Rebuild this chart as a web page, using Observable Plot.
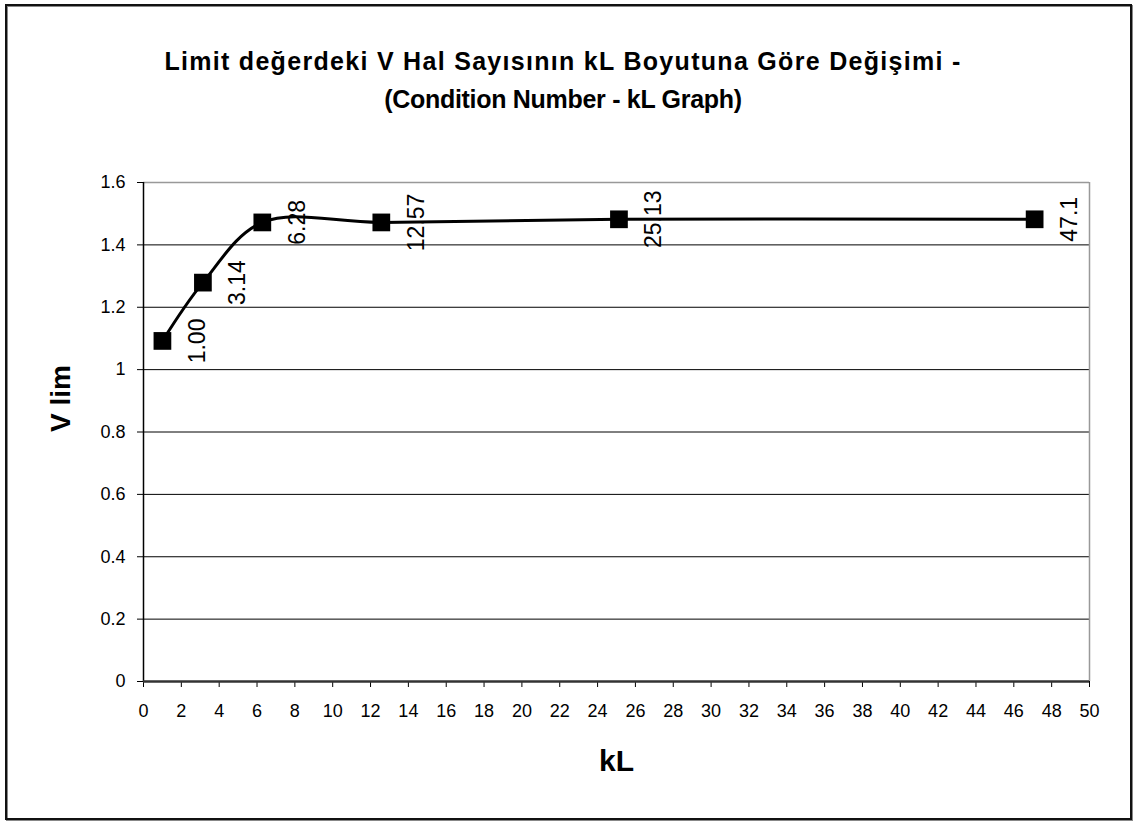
<!DOCTYPE html>
<html>
<head>
<meta charset="utf-8">
<script src="https://cdn.jsdelivr.net/npm/d3@7"></script>
<script src="https://cdn.jsdelivr.net/npm/@observablehq/plot@0.6"></script>
<style>
  html, body { margin: 0; padding: 0; background: #fff; }
  #chart { position: relative; width: 1137px; height: 823px; overflow: hidden; font-family: "Liberation Sans", Arial, sans-serif; }
  #frame { position: absolute; left: 5px; top: 4px; width: 1123px; height: 812px; border: 2px solid #111; box-shadow: 1px 1px 0 #888, inset 1px 1px 0 #888; pointer-events: none; }
  #title { position: absolute; left: 0; top: 42px; width: 1126px; text-align: center; font-weight: bold; font-size: 25px; line-height: 38px; color: #000; }
  #title .l1 { letter-spacing: 1.3px; }
  #title .l2 { letter-spacing: -0.3px; }
  #plot { position: absolute; left: 0; top: 130px; }
</style>
</head>
<body>
<div id="chart">
  <div id="title"><span class="l1">Limit değerdeki V Hal Sayısının kL Boyutuna Göre Değişimi -</span><br><span class="l2">(Condition Number - kL Graph)</span></div>
  <div id="plot"></div>
  <div id="frame"></div>
</div>
<script>
// kL values (also used as the point labels) and the limiting condition number V lim
const kL = [1.00, 3.14, 6.28, 12.57, 25.13, 47.1];
const vLim = [1.092, 1.279, 1.472, 1.472, 1.482, 1.482];
const pointLabels = ["1.00", "3.14", "6.28", "12.57", "25.13", "47.1"];
const xTicks = d3.range(0, 51, 2);
const yTicks = [0, 0.2, 0.4, 0.6, 0.8, 1, 1.2, 1.4, 1.6];

const data = kL.map((x, i) => ({x, y: vLim[i], label: pointLabels[i]}));
const font = "Liberation Sans, Arial, sans-serif";

const chart = Plot.plot({
  width: 1137,
  height: 693,
  marginLeft: 143,
  marginRight: 48,
  marginTop: 52,
  marginBottom: 142,
  style: {fontFamily: font, background: "transparent", overflow: "visible"},
  x: {domain: [0, 50], ticks: xTicks, label: null},
  y: {domain: [0, 1.6], ticks: yTicks, label: null},
  marks: [
    // horizontal gridlines
    Plot.ruleY(yTicks.filter(d => d > 0 && d < 1.6), {stroke: "#000", strokeWidth: 1}),
    // plot-area border: top and right in gray
    Plot.ruleY([1.6], {stroke: "#999", strokeWidth: 1.5}),
    Plot.ruleX([50], {stroke: "#999", strokeWidth: 1.5}),
    // axes
    Plot.axisY({ticks: yTicks, tickSize: 6, tickPadding: 12, tickFormat: d => String(+d.toFixed(1)), fontSize: 18, stroke: "#000", color: "#000", label: null}),
    Plot.axisX({ticks: xTicks, tickSize: 6, tickPadding: 17, tickFormat: d => String(d), fontSize: 18, stroke: "#000", color: "#000", label: null}),
    Plot.ruleX([0], {stroke: "#000", strokeWidth: 1.5}),
    Plot.ruleY([0], {stroke: "#333", strokeWidth: 2.5}),
    // smoothed line through the measured points
    Plot.line(data, {x: "x", y: "y", curve: "catmull-rom", stroke: "#000", strokeWidth: 3}),
    Plot.dot(data, {x: "x", y: "y", symbol: "square", r: 10, fill: "#000", stroke: "none"}),
    // rotated point labels
    Plot.text(data, {x: "x", y: "y", text: "label", rotate: -90, dx: 35, textAnchor: "middle", lineAnchor: "middle", fontSize: 23, fill: "#000"}),
    // axis titles
    Plot.text(["V lim"], {frameAnchor: "left", dx: -82, rotate: -90, fontSize: 28, fontWeight: "bold", fill: "#000"}),
    Plot.text(["kL"], {frameAnchor: "bottom", dy: 89, fontSize: 30, fontWeight: "bold", fill: "#000"})
  ]
});

document.getElementById("plot").appendChild(chart);
</script>
</body>
</html>
